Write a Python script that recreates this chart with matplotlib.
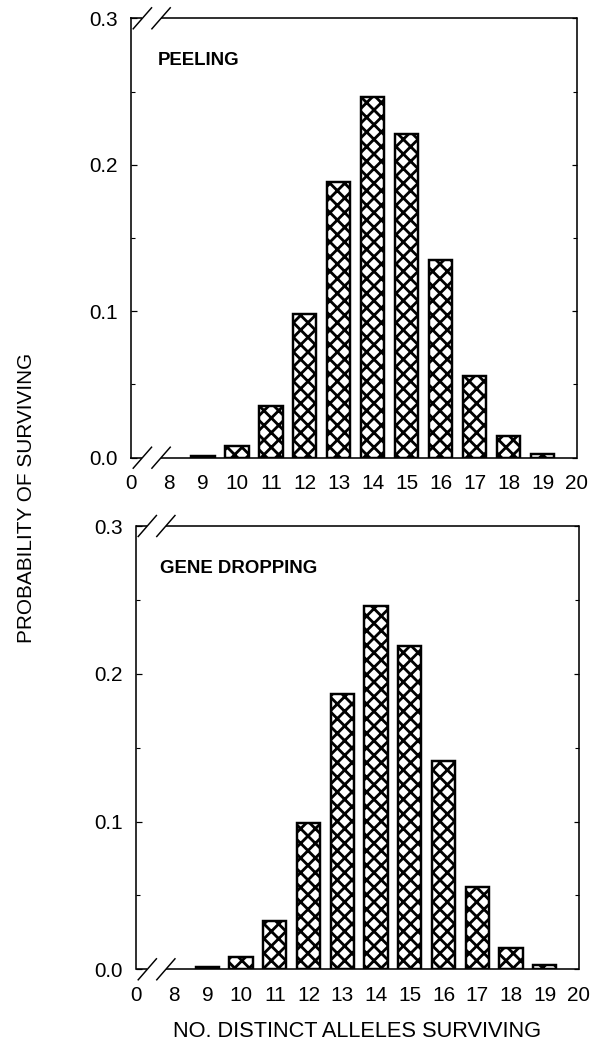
import matplotlib
matplotlib.use("Agg")
import matplotlib.pyplot as plt
from matplotlib.ticker import MultipleLocator

# ---- data ----
alleles = [9, 10, 11, 12, 13, 14, 15, 16, 17, 18, 19]
peeling = [0.001, 0.008, 0.035, 0.098, 0.188, 0.246, 0.221, 0.135, 0.056, 0.015, 0.0025]
gene_dropping = [0.0018, 0.0085, 0.033, 0.099, 0.186, 0.246, 0.219, 0.141, 0.056, 0.0145, 0.003]
xtick_pos = [6.87, 8, 9, 10, 11, 12, 13, 14, 15, 16, 17, 18, 19, 20]
xtick_labels = ["0", "8", "9", "10", "11", "12", "13", "14", "15", "16", "17", "18", "19", "20"]
ytick_vals = [0.0, 0.1, 0.2, 0.3]
panel_titles = ["PEELING", "GENE DROPPING"]
xlabel = "NO. DISTINCT ALLELES SURVIVING"
ylabel = "PROBABILITY OF SURVIVING"

DPI = 88
W, H = 599, 1043
plt.rcParams['font.family'] = ['Liberation Sans', 'DejaVu Sans']
plt.rcParams['hatch.linewidth'] = 2.3
plt.rcParams['hatch.color'] = 'black'

fig = plt.figure(figsize=(W / DPI, H / DPI), dpi=DPI)

# axes rectangles in pixels: left, right, top, bottom
rects = [(130.5, 576.5, 18.3, 457.7), (135.5, 578.5, 526.0, 969.3)]
series = [peeling, gene_dropping]
title_x = [0.06, 0.055]

for (l, r, t, b), vals, title, tx in zip(rects, series, panel_titles, title_x):
    ax = fig.add_axes([l / W, 1 - b / H, (r - l) / W, (b - t) / H])
    ax.bar(alleles, vals, width=0.69, color='white', edgecolor='black',
           linewidth=2.0, hatch='xx', zorder=2)
    x0, x1 = xtick_pos[0], 20.0
    ax.set_xlim(x0, x1)
    ax.set_ylim(0, 0.3)
    ax.set_xticks(xtick_pos)
    ax.set_xticklabels(xtick_labels, fontsize=17)
    ax.set_yticks(ytick_vals)
    ax.set_yticklabels([f"{v:.1f}" for v in ytick_vals], fontsize=17)
    ax.yaxis.set_minor_locator(MultipleLocator(0.05))
    ax.tick_params(axis='x', length=0, pad=13.5)
    ax.tick_params(axis='y', which='major', direction='in', length=4.5, width=1.0,
                   right=True, pad=10.5)
    ax.tick_params(axis='y', which='minor', direction='in', length=3, width=0.9,
                   right=True)
    for s in ['left', 'right']:
        ax.spines[s].set_linewidth(1.3)
    ax.spines['top'].set_visible(False)
    ax.spines['bottom'].set_visible(False)

    # broken top/bottom spines with double slashes
    tr = ax.get_xaxis_transform()
    b1, b2 = 7.22, 7.77
    dx = 0.27
    dy = 10.5 / (b - t)
    for yy in (0.0, 1.0):
        ax.plot([x0, b1], [yy, yy], color='black', lw=1.3, transform=tr,
                clip_on=False, solid_capstyle='butt', zorder=3)
        ax.plot([b2, x1], [yy, yy], color='black', lw=1.3, transform=tr,
                clip_on=False, solid_capstyle='butt', zorder=3)
        for c in (b1, b2):
            ax.plot([c - dx, c + dx], [yy - dy, yy + dy], color='black', lw=1.2,
                    transform=tr, clip_on=False, zorder=3)

    ax.text(tx, 0.905, title, transform=ax.transAxes, fontsize=15.2,
            fontweight='bold', ha='left', va='center')

fig.text(356.7 / W, 1 - 1031.7 / H, xlabel, ha='center', va='center', fontsize=17.8)
fig.text(26.7 / W, 1 - 498 / H, ylabel, ha='center', va='center', fontsize=17,
         rotation=90)

fig.savefig("out.png", dpi=DPI)
